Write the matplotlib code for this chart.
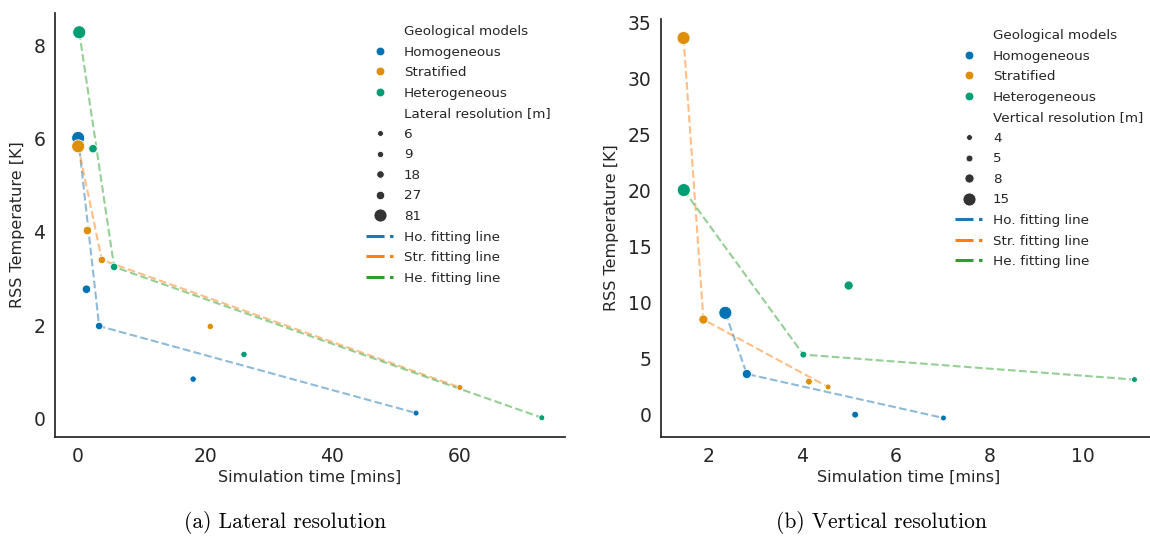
import numpy as np
import matplotlib
matplotlib.use("Agg")
import matplotlib.pyplot as plt
from matplotlib.lines import Line2D

# ---- data ----
models = ['Homogeneous', 'Stratified', 'Heterogeneous']
point_colors = ['#0173b2', '#de8f05', '#029e73']
line_colors = ['tab:blue', 'tab:orange', 'tab:green']
line_labels = ['Ho. fitting line', 'Str. fitting line', 'He. fitting line']

# (a) lateral resolution
lat_res = [81, 27, 18, 9, 6]
lat_time = {
    'Homogeneous':   [0.0, 1.3, 3.3, 18.1, 53.2],
    'Stratified':    [0.0, 1.46, 3.73, 20.8, 60.1],
    'Heterogeneous': [0.17, 2.33, 5.66, 26.1, 73.0],
}
lat_rss = {
    'Homogeneous':   [6.02, 2.77, 1.98, 0.84, 0.11],
    'Stratified':    [5.84, 4.03, 3.40, 1.97, 0.66],
    'Heterogeneous': [8.29, 5.79, 3.25, 1.37, 0.01],
}
lat_fit_idx = [0, 2, 4]
lat_levels = [6, 9, 18, 27, 81]

# (b) vertical resolution
ver_res = [15, 8, 5, 4]
ver_time = {
    'Homogeneous':   [2.35, 2.81, 5.13, 7.02],
    'Stratified':    [1.455, 1.88, 4.14, 4.55],
    'Heterogeneous': [1.46, 4.99, 4.02, 11.11],
}
ver_rss = {
    'Homogeneous':   [9.09, 3.63, 0.0, -0.3],
    'Stratified':    [33.63, 8.49, 2.95, 2.47],
    'Heterogeneous': [20.05, 11.53, 5.36, 3.13],
}
ver_fit_idx = {
    'Homogeneous':   [0, 1, 3],
    'Stratified':    [0, 1, 3],
    'Heterogeneous': [0, 2, 3],
}
ver_levels = [4, 5, 8, 15]

TXT = (0.15, 0.15, 0.15)
SMIN, SMAX = 18, 88


def size_of(v, levels):
    lo, hi = min(levels), max(levels)
    return SMIN + (v - lo) / (hi - lo) * (SMAX - SMIN)


def panel(ax, times, rss, res, fit_idx, levels, size_title, leg_anchor):
    for i, m in enumerate(models):
        x = np.array(times[m])
        y = np.array(rss[m])
        idx = fit_idx[m] if isinstance(fit_idx, dict) else fit_idx
        ax.plot(x[idx], y[idx], '--', color=line_colors[i], alpha=0.5, lw=1.5, zorder=1)
        s = [size_of(r, levels) for r in res]
        ax.scatter(x, y, s=s, color=point_colors[i], edgecolor='white',
                   linewidth=0.6, zorder=3)
    ax.margins(0.05)
    for sp in ['top', 'right']:
        ax.spines[sp].set_visible(False)
    for sp in ['left', 'bottom']:
        ax.spines[sp].set_color(TXT)
        ax.spines[sp].set_linewidth(1.25)
    ax.tick_params(left=False, bottom=False, labelsize=13.5, labelcolor=TXT,
                   length=3.5, pad=3.5)
    ax.set_xlabel('Simulation time [mins]', fontsize=11.5, color=TXT, labelpad=3)
    ax.set_ylabel('RSS Temperature [K]', fontsize=11.5, color=TXT, labelpad=6)

    blank = Line2D([], [], linestyle='none', marker=None)
    handles = [blank]
    labels = ['Geological models']
    for i, m in enumerate(models):
        handles.append(Line2D([], [], linestyle='none', marker='o',
                              markersize=np.sqrt(40), color=point_colors[i],
                              markeredgecolor='white', markeredgewidth=0.6))
        labels.append(m)
    handles.append(blank)
    labels.append(size_title)
    for lv in levels:
        handles.append(Line2D([], [], linestyle='none', marker='o',
                              markersize=np.sqrt(size_of(lv, levels)), color='0.2',
                              markeredgecolor='white', markeredgewidth=0.6))
        labels.append(str(lv))
    for i in range(3):
        handles.append(Line2D([], [], color=line_colors[i], lw=2.2,
                              dashes=(5.9, 1.8)))
        labels.append(line_labels[i])
    leg = ax.legend(handles, labels, loc='upper left', bbox_to_anchor=leg_anchor,
                    bbox_transform=ax.figure.transFigure, frameon=False,
                    fontsize=9.7, labelspacing=0.56, handlelength=2.0,
                    handletextpad=0.8, borderpad=0.4)
    for t in leg.get_texts():
        t.set_color(TXT)


fig = plt.figure(figsize=(11.5, 5.39), dpi=100)
W, H = 1150, 539
ax1 = fig.add_axes([55 / W, 1 - 437 / H, (565 - 55) / W, (437 - 13) / H])
ax2 = fig.add_axes([661 / W, 1 - 437 / H, (1157 - 661) / W, (437 - 19) / H])

panel(ax1, lat_time, lat_rss, lat_res, lat_fit_idx, lat_levels,
      'Lateral resolution [m]', (354 / W, 1 - 13 / H))
panel(ax2, ver_time, ver_rss, ver_res, ver_fit_idx, ver_levels,
      'Vertical resolution [m]', (943 / W, 1 - 17 / H))

ax1.set_xticks([0, 20, 40, 60])
ax1.set_yticks([0, 2, 4, 6, 8])
ax2.set_xticks([2, 4, 6, 8, 10])
ax2.set_yticks([0, 5, 10, 15, 20, 25, 30, 35])

fig.text(285 / W, 1 - 523 / H, '(a) Lateral resolution', family='cmr10',
         fontsize=15.5, ha='center', va='center')
fig.text(882 / W, 1 - 523 / H, '(b) Vertical resolution', family='cmr10',
         fontsize=15.5, ha='center', va='center')

fig.savefig('out.png', dpi=100)
